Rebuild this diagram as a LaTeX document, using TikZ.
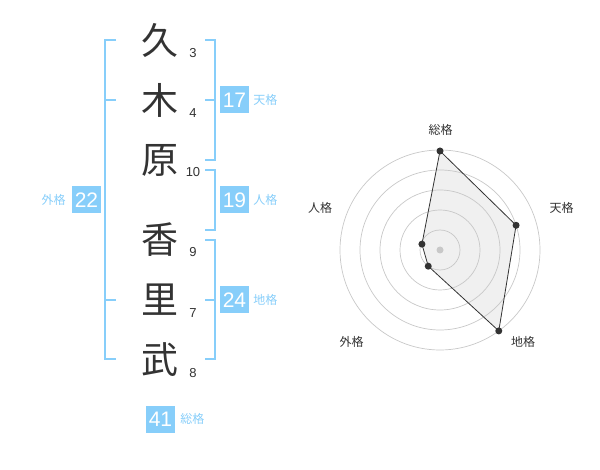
\documentclass[tikz,border=0pt]{standalone}
\usepackage{fontspec}
\setmainfont{Liberation Sans}
\newfontfamily\jp{Noto Sans CJK JP}
\usetikzlibrary{positioning}
\definecolor{kakublue}{RGB}{135,206,250}
\definecolor{ink}{RGB}{51,51,51}
\definecolor{ringgray}{RGB}{200,200,200}
\definecolor{areagray}{RGB}{240,240,240}
\begin{document}
\begin{tikzpicture}[x=1pt, y=-1pt,
   kanji/.style={font=\jp\fontsize{37}{37}\selectfont, text=ink, inner sep=0pt},
   kakusu/.style={font=\fontsize{13}{13}\selectfont, text=ink, inner sep=0pt},
   kakubox/.style={fill=kakublue, text=white, minimum width=29pt, minimum height=27pt, inner sep=0pt, font=\fontsize{21}{21}\selectfont},
   kakuname/.style={font=\jp\fontsize{12}{12}\selectfont, text=kakublue, inner sep=0pt},
   bracket/.style={draw=kakublue, line width=2pt},
   ring/.style={draw=ringgray, line width=0.7pt},
   axisname/.style={font=\jp\fontsize{12}{12}\selectfont, text=ink, inner sep=0pt},
   dot/.style={fill=ink}]
   \useasboundingbox (0, 0) rectangle (600, 470);
   \node[kanji] (k1) at (160, 40) {久};
   \node[kanji] (k2) at (160, 100) {木};
   \node[kanji] (k3) at (160, 160) {原};
   \node[kanji] (k4) at (160, 240) {香};
   \node[kanji] (k5) at (160, 300) {里};
   \node[kanji] (k6) at (160, 360) {武};
   \node[kakusu] (n1) at (193, 53) {3};
   \node[kakusu] (n2) at (193, 113) {4};
   \node[kakusu] (n3) at (193, 172) {10};
   \node[kakusu] (n4) at (193, 252) {9};
   \node[kakusu] (n5) at (193, 313) {7};
   \node[kakusu] (n6) at (193, 373) {8};
   \draw[bracket] (116, 40) -- (105, 40) -- (105, 359) -- (116, 359);
   \draw[bracket] (105, 100) -- (116, 100);
   \draw[bracket] (105, 300) -- (116, 300);
   \draw[bracket] (205, 40) -- (215, 40) -- (215, 160) -- (205, 160);
   \draw[bracket] (205, 100) -- (215, 100);
   \draw[bracket] (205, 170) -- (215, 170) -- (215, 230) -- (205, 230);
   \draw[bracket] (205, 240) -- (215, 240) -- (215, 359) -- (205, 359);
   \draw[bracket] (205, 300) -- (215, 300);
   \node[kakubox] (ten) at (234.5, 100) {17};
   \node[kakuname, right=4pt of ten] {天格};
   \node[kakubox] (jin) at (234.5, 200) {19};
   \node[kakuname, right=4pt of jin] {人格};
   \node[kakubox] (chi) at (234.5, 300) {24};
   \node[kakuname, right=4pt of chi] {地格};
   \node[kakubox] (gai) at (86.5, 200) {22};
   \node[kakuname, left=6pt of gai] {外格};
   \node[kakubox] (sou) at (160.5, 419) {41};
   \node[kakuname, right=5pt of sou] {総格};
   \begin{scope}[shift={(440, 250)}]
      \coordinate (rsou) at (90:99pt);
      \coordinate (rten) at (18:80pt);
      \coordinate (rchi) at (-54:100pt);
      \coordinate (rgai) at (234:20pt);
      \coordinate (rjin) at (162:19pt);
      \fill[areagray] (rsou) -- (rten) -- (rchi) -- (rgai) -- (rjin) -- cycle;
      \foreach \r in {20, 40, 60, 80, 100}
         \draw[ring] (0, 0) circle (\r pt);
      \fill[ringgray] (0, 0) circle (3.5pt);
      \draw[ink, line width=0.8pt] (rsou) -- (rten) -- (rchi) -- (rgai) -- (rjin) -- cycle;
      \foreach \p in {rsou, rten, rchi, rgai, rjin}
         \fill[dot] (\p) circle (3.5pt);
      \node[axisname] at (0.7pt, 120pt) {総格};
      \node[axisname] at (121.7pt, 42pt) {天格};
      \node[axisname] at (83pt, -91.7pt) {地格};
      \node[axisname] at (-88.3pt, -91.7pt) {外格};
      \node[axisname] at (-120pt, 42pt) {人格};
   \end{scope}
\end{tikzpicture}
\end{document}
